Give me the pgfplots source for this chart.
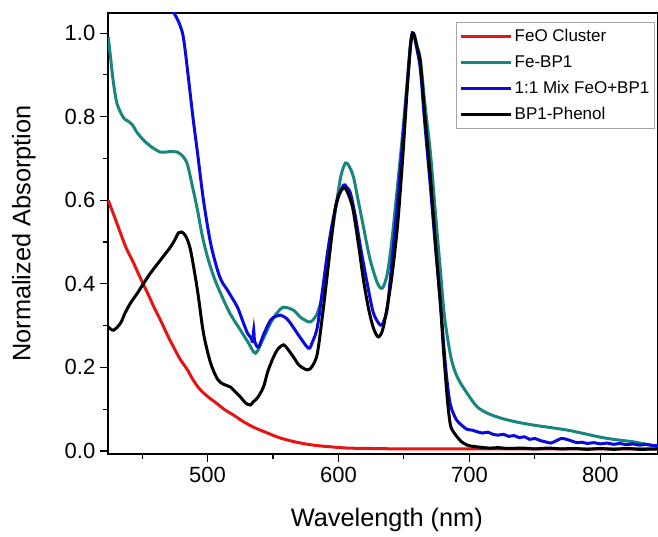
\documentclass[border=0pt]{standalone}
\usepackage{pgfplots}
\pgfplotsset{compat=1.18}
\usepackage{fontspec}
\setmainfont{Liberation Sans}
\definecolor{cred}{RGB}{230,20,20}
\definecolor{cteal}{RGB}{26,133,125}
\definecolor{cblue}{RGB}{10,10,220}
\begin{document}
\begin{tikzpicture}
\begin{axis}[
  scale only axis, width=412.5pt, height=330.75pt,
  xmin=424, xmax=844, ymin=-0.0072, ymax=1.048,
  xtick={500,600,700,800}, minor xtick={450,550,650,750,850},
  ytick={0,0.2,0.4,0.6,0.8,1.0}, minor ytick={0.1,0.3,0.5,0.7,0.9},
  tick align=outside, xtick pos=bottom, ytick pos=left,
  major tick length=6pt, minor tick length=3.75pt,
  every tick/.style={black, line width=0.8pt},
  axis line style={line width=1pt},
  ticklabel style={font=\fontsize{16.5}{18}\selectfont},
  /pgf/number format/assume math mode=true,
  yticklabel style={/pgf/number format/.cd, fixed, fixed zerofill, precision=1},
  xticklabel style={/pgf/number format/.cd, set thousands separator={}},
  xlabel={Wavelength (nm)}, ylabel={Normalized Absorption},
  label style={font=\fontsize{19}{22}\selectfont},
  xlabel style={at={(axis description cs:0.507,-0.1497)}, anchor=center},
  ylabel style={at={(axis description cs:-0.153,0.5)}, anchor=center},
  legend style={at={(axis description cs:1,1)}, anchor=north east, xshift=-2.25pt, yshift=-6.75pt,
    draw=gray!70, line width=0.5pt, font=\fontsize{12.75}{15}\selectfont,
    inner xsep=2pt, inner ysep=3pt, row sep=5pt},
  legend cell align=left,
  legend image code/.code={\draw[#1,line width=2.25pt] (0pt,0pt) -- (37.5pt,0pt);},
  every axis plot/.append style={line width=2.25pt, smooth, tension=0.5},
]
\addplot[cred] coordinates {
(424.2,0.600)(429,0.560)(433.6,0.521)(438,0.485)(443.5,0.450)(449,0.412)(454.2,0.378)(459,0.345)(464.1,0.313)(469,0.280)(474,0.249)(479,0.220)(484.7,0.194)(489,0.170)(494.6,0.146)(501,0.128)(507,0.114)(513,0.099)(519.8,0.086)(527,0.071)(535.1,0.057)(545,0.044)(555.7,0.031)(568,0.021)(580.9,0.014)(594,0.010)(606.8,0.007)(625,0.006)(650,0.005)(700,0.005)(750,0.005)(800,0.005)(844,0.005)
};
\addlegendentry{FeO Cluster}
\addplot[cteal] coordinates {
(424.2,0.99)(426,0.94)(428.2,0.88)(431,0.83)(435.9,0.797)(439,0.790)(442.7,0.780)(446,0.763)(451.1,0.744)(457,0.728)(464.1,0.715)(470,0.716)(477.1,0.715)(481.7,0.703)(484.7,0.685)(488,0.640)(492.3,0.577)(496,0.515)(500,0.464)(505,0.415)(509.9,0.378)(517,0.330)(525.2,0.289)(531,0.260)(536.6,0.234)(542,0.265)(548.1,0.306)(553,0.330)(558,0.344)(565.6,0.337)(571,0.320)(577.1,0.309)(580,0.312)(583.9,0.330)(588,0.375)(591.6,0.440)(595,0.520)(599.2,0.608)(602,0.660)(605.3,0.689)(608,0.682)(611.4,0.656)(615,0.600)(619.1,0.536)(624,0.460)(629.7,0.402)(633.6,0.390)(637.4,0.426)(641,0.510)(645,0.632)(649,0.760)(652.6,0.888)(655,0.975)(656.5,1.0)(658,0.995)(660,0.970)(662.6,0.935)(666,0.830)(670.2,0.713)(674,0.570)(677.8,0.433)(681,0.320)(685.5,0.230)(689,0.190)(693.1,0.163)(700,0.130)(706.1,0.105)(714,0.090)(723.6,0.079)(735,0.070)(748.8,0.062)(762,0.056)(774.8,0.050)(787,0.042)(800,0.033)(812,0.027)(825.2,0.022)(835,0.016)(844,0.010)
};
\addlegendentry{Fe-BP1}
\addplot[cblue] coordinates {
(466,1.10)(470,1.075)(474,1.05)(477.5,1.03)(480.9,1.0)(483,0.957)(485.5,0.89)(489,0.795)(492.3,0.715)(496.9,0.60)(502.3,0.498)(507.6,0.433)(511,0.405)(515.2,0.385)(519,0.365)(522.9,0.344)(527,0.310)(530.5,0.282)(533,0.272)(534.5,0.262)(535.3,0.29)(536,0.262)(538.9,0.249)(543,0.280)(548.1,0.313)(552,0.322)(555.7,0.325)(560,0.318)(563.3,0.306)(570,0.275)(577.1,0.246)(580,0.260)(583.9,0.297)(588,0.390)(591.6,0.474)(595,0.540)(599.2,0.600)(603.8,0.636)(606,0.632)(609.1,0.617)(613,0.560)(616.8,0.488)(622,0.400)(626.7,0.330)(632,0.301)(634.5,0.310)(637.4,0.344)(641,0.460)(645,0.593)(649,0.740)(652.6,0.880)(655,0.972)(656.5,1.0)(658,0.992)(660,0.960)(662.6,0.911)(666,0.780)(670.2,0.632)(674,0.490)(677.8,0.354)(681,0.230)(683,0.165)(685.5,0.110)(690,0.075)(694,0.062)(698,0.052)(702,0.050)(706,0.046)(710,0.043)(714,0.045)(718,0.040)(722,0.038)(726,0.040)(730,0.035)(734,0.037)(738,0.032)(742,0.034)(746,0.028)(750,0.030)(754,0.025)(758,0.022)(762,0.019)(766,0.024)(770,0.030)(774,0.028)(778,0.024)(782,0.020)(786,0.021)(790,0.018)(795,0.020)(800,0.017)(805,0.019)(810,0.016)(815,0.018)(820,0.015)(825,0.017)(830,0.014)(835,0.016)(840,0.013)(844,0.014)
};
\addlegendentry{1:1 Mix FeO+BP1}
\addplot[black] coordinates {
(424.2,0.297)(428.2,0.289)(433.6,0.306)(437,0.330)(441.2,0.354)(446.5,0.378)(451,0.400)(456.5,0.426)(464.1,0.457)(471.7,0.488)(475,0.505)(477.8,0.522)(480,0.524)(483.2,0.515)(487,0.481)(492.3,0.385)(496.9,0.282)(502.3,0.211)(507.6,0.172)(512,0.160)(517.5,0.153)(521,0.142)(525.2,0.129)(529,0.115)(532.8,0.110)(535,0.118)(538.1,0.127)(542.7,0.153)(546,0.190)(550.4,0.225)(554,0.245)(558,0.254)(561,0.245)(565.6,0.225)(570,0.205)(576.3,0.194)(580,0.203)(583.9,0.234)(588,0.330)(591.6,0.426)(595,0.520)(597.7,0.584)(600.5,0.615)(603.8,0.629)(606,0.625)(610.7,0.584)(615,0.500)(619.1,0.409)(623,0.340)(626.7,0.294)(630.5,0.273)(634.3,0.297)(640,0.400)(645,0.536)(649,0.700)(652.6,0.871)(655,0.968)(656.5,1.0)(658,0.992)(660,0.965)(662.6,0.928)(666,0.800)(670.2,0.656)(674,0.500)(677.8,0.354)(680,0.250)(683.2,0.122)(685.5,0.062)(688,0.045)(690.8,0.033)(694,0.022)(698.4,0.014)(703,0.011)(708.4,0.009)(715,0.007)(722,0.008)(730,0.006)(740,0.007)(750,0.005)(760,0.007)(770,0.005)(780,0.006)(790,0.004)(800,0.006)(810,0.004)(820,0.006)(830,0.004)(844,0.005)
};
\addlegendentry{BP1-Phenol}
\end{axis}
\pgfresetboundingbox
\path[use as bounding box] ([shift={(-81pt,-61.5pt)}]current axis.south west) rectangle ([shift={(0pt,9.75pt)}]current axis.north east);
\end{tikzpicture}
\end{document}
